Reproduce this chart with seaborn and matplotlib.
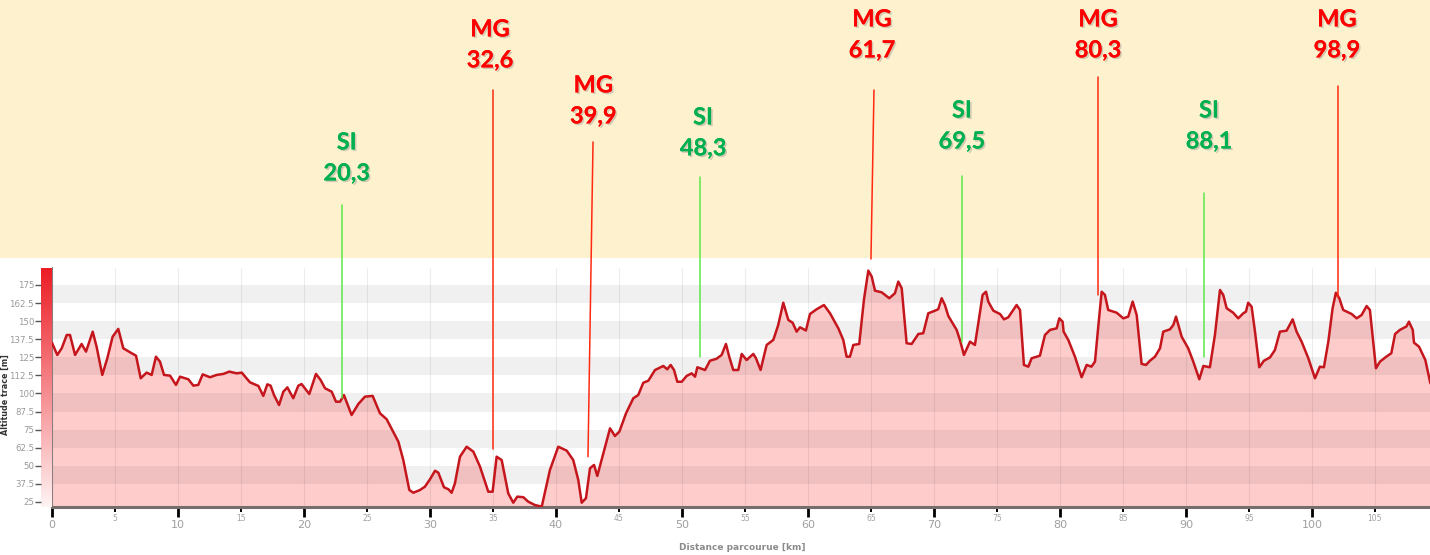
import numpy as np
import matplotlib
matplotlib.use('Agg')
import matplotlib.pyplot as plt
import matplotlib.patheffects as pe
from matplotlib.colors import LinearSegmentedColormap
from matplotlib.patches import Rectangle
import seaborn as sns

sns.set_style("white")
plt.rcParams['font.family'] = ['DejaVu Sans']

# altitude profile (km, m)
km = [0.0, 0.42, 0.77, 1.17, 1.43, 1.83, 2.35, 2.70, 3.23, 3.54, 3.99, 4.39, 4.81, 5.26,
      5.66, 6.32, 6.67, 7.04, 7.51, 7.91, 8.25, 8.57, 8.89, 9.37, 9.84, 10.16, 10.82,
      11.22, 11.61, 11.96, 12.54, 13.07, 13.6, 14.07, 14.66, 15.06, 15.71, 16.38, 16.77,
      17.09, 17.35, 17.62, 18.02, 18.36, 18.68, 19.15, 19.55, 19.81, 20.42, 20.95, 21.32,
      21.67, 22.2, 22.54, 22.86, 23.17, 23.78, 24.31, 24.84, 25.45, 26.03, 26.56, 27.49,
      27.88, 28.36, 28.68, 29.21, 29.6, 30.0, 30.4, 30.66, 31.11, 31.46, 31.72, 31.98,
      32.38, 32.91, 33.44, 33.97, 34.63, 34.97, 35.29, 35.69, 36.21, 36.61, 36.93, 37.41,
      37.8, 38.33, 38.87, 39.52, 40.18, 40.85, 41.37, 41.77, 42.04, 42.38, 42.7, 43.02,
      43.28, 43.62, 44.29, 44.68, 45.03, 45.56, 46.14, 46.53, 46.93, 47.33, 47.86, 48.52,
      48.83, 49.1, 49.37, 49.63, 49.98, 50.37, 50.77, 51.04, 51.22, 51.83, 52.22, 52.75,
      53.15, 53.49, 53.75, 54.07, 54.47, 54.74, 55.13, 55.66, 55.87, 56.24, 56.72, 57.25,
      57.64, 58.04, 58.44, 58.78, 59.1, 59.37, 59.84, 60.16, 60.69, 61.27, 61.75, 62.41,
      62.8, 63.07, 63.33, 63.6, 64.07, 64.44, 64.79, 65.06, 65.32, 65.85, 66.45, 66.9,
      67.17, 67.44, 67.83, 68.23, 68.76, 69.15, 69.55, 70.08, 70.34, 70.61, 70.87, 71.14,
      71.8, 72.06, 72.38, 72.86, 73.25, 73.52, 73.86, 74.13, 74.31, 74.71, 75.24, 75.56,
      75.9, 76.3, 76.56, 76.83, 77.14, 77.49, 77.75, 78.41, 78.81, 79.21, 79.74, 79.95,
      80.21, 80.29, 80.66, 81.19, 81.72, 82.12, 82.5, 82.78, 83.04, 83.31, 83.57, 83.83,
      84.5, 85.03, 85.42, 85.77, 86.09, 86.48, 86.83, 87.14, 87.54, 87.94, 88.2, 88.73,
      89.0, 89.21, 89.42, 89.66, 90.18, 90.58, 91.06, 91.38, 91.9, 92.3, 92.7, 92.96,
      93.23, 93.75, 94.15, 94.55, 94.76, 94.94, 95.21, 95.48, 95.82, 96.19, 96.67, 97.06,
      97.46, 97.99, 98.47, 98.78, 99.18, 99.71, 100.24, 100.63, 100.95, 101.3, 101.64,
      101.9, 102.17, 102.48, 103.15, 103.55, 103.94, 104.34, 104.6, 105.08, 105.4, 105.9,
      106.3, 106.6, 106.98, 107.5, 107.7, 108.0, 108.1, 108.5, 109.0, 109.4]
alt = [135.0, 126.6, 131.2, 140.4, 140.4, 126.6, 134.2, 128.9, 142.7, 132.3, 112.8, 124.3,
       139.2, 144.6, 131.2, 127.8, 126.1, 110.5, 114.4, 112.8, 125.4, 122.0, 112.8, 112.3,
       105.9, 111.6, 109.8, 105.4, 105.9, 113.2, 111.2, 112.8, 113.5, 115.1, 113.9, 114.4,
       107.7, 105.2, 98.3, 106.3, 105.4, 98.9, 92.0, 101.2, 104.2, 96.7, 105.4, 106.5, 99.6,
       113.5, 109.3, 103.6, 101.2, 94.3, 94.3, 98.9, 85.1, 92.7, 97.8, 98.3, 86.3, 82.2,
       66.7, 54.0, 33.3, 31.4, 33.3, 35.6, 40.7, 46.6, 45.3, 35.2, 33.8, 31.4, 37.9, 56.3,
       63.2, 59.8, 49.4, 32.1, 32.1, 56.3, 54.0, 31.0, 24.5, 28.7, 28.3, 25.2, 22.9, 21.8,
       47.1, 63.2, 60.5, 54.0, 40.2, 24.5, 27.6, 48.3, 50.6, 43.0, 54.0, 75.9, 70.6, 73.6,
       86.3, 96.7, 98.9, 107.4, 108.8, 116.2, 119.0, 116.7, 119.7, 116.2, 108.1, 108.1,
       112.1, 113.9, 111.6, 118.1, 116.2, 122.6, 124.0, 126.6, 134.2, 125.4, 116.2, 116.2,
       127.3, 123.1, 127.3, 124.4, 116.2, 133.5, 137.0, 147.3, 162.7, 150.8, 148.9, 142.7,
       145.7, 143.5, 154.9, 158.2, 161.1, 155.4, 145.0, 137.0, 125.4, 125.4, 133.5, 134.2,
       164.6, 184.9, 180.7, 171.0, 169.9, 165.8, 169.2, 177.3, 172.7, 134.7, 134.2, 141.1,
       141.6, 155.4, 157.2, 158.2, 165.8, 161.1, 153.5, 143.9, 137.0, 126.6, 135.8, 133.5,
       148.5, 168.1, 170.3, 163.5, 157.2, 154.9, 151.2, 152.6, 157.7, 161.1, 157.7, 119.7,
       118.5, 124.3, 126.1, 140.4, 143.9, 145.0, 151.9, 149.6, 142.7, 137.0, 125.4, 111.2,
       119.7, 118.5, 122.0, 146.1, 170.3, 168.1, 157.7, 155.8, 151.9, 153.1, 163.5, 154.2,
       120.4, 119.7, 122.6, 125.4, 131.2, 142.7, 144.3, 147.3, 153.1, 146.6, 139.2, 131.2,
       122.0, 109.8, 119.0, 118.1, 140.4, 171.5, 168.1, 158.9, 155.8, 151.9, 155.4, 156.5,
       162.7, 160.0, 142.7, 118.1, 122.6, 124.9, 130.0, 142.7, 143.4, 151.2, 142.7, 135.8,
       124.4, 110.5, 118.5, 118.1, 135.8, 158.9, 169.6, 165.8, 157.7, 154.9, 151.9, 154.2,
       160.4, 157.7, 117.4, 122.0, 125.4, 127.8, 141.1, 143.9, 146.3, 149.6, 143.9, 135.1,
       132.3, 123.1, 107.0]

# markers: MG / SI with their distance labels
ann_kind = ['SI', 'MG', 'MG', 'SI', 'MG', 'SI', 'MG', 'SI', 'MG']
ann_label = ['20,3', '32,6', '39,9', '48,3', '61,7', '69,5', '80,3', '88,1', '98,9']
ann_km_top = [23.02, 35.0, 42.94, 51.43, 65.24, 72.22, 82.98, 91.43, 102.06]
ann_km_bottom = [23.02, 35.0, 42.54, 51.43, 65.0, 72.22, 82.98, 91.43, 102.06]
ann_alt_top = [230.3, 309.7, 273.8, 249.6, 309.7, 250.3, 318.7, 238.5, 312.5]
ann_alt_bottom = [96.9, 61.4, 56.3, 125.4, 192.9, 135.8, 168.1, 125.4, 166.5]
ann_text_km = [23.39, 34.76, 42.96, 51.67, 65.08, 72.22, 83.02, 91.83, 101.98]
ann_text_alt = [273.8, 351.9, 313.2, 291.1, 358.8, 295.9, 358.8, 295.9, 358.8]

y_ticks = [25, 37.5, 50, 62.5, 75, 87.5, 100, 112.5, 125, 137.5, 150, 162.5, 175]
band_lows = [37.5, 62.5, 87.5, 112.5, 137.5, 162.5]

W, H = 1430, 555
XMAX, YMIN, YMAX, YBAR = 109.37, 21.54, 193.6, 186.5

fig = plt.figure(figsize=(W / 100, H / 100), dpi=100)
fig.patches.append(Rectangle((0, (H - 258) / H), 1, 258 / H, transform=fig.transFigure,
                             facecolor='#fef1ce', edgecolor='none', zorder=-1))

ax = fig.add_axes([52 / W, (H - 507) / H, 1378 / W, 249 / H])
ax.set_facecolor('white')
ax.fill_between(km, alt, YMIN, color='#ffcccc', lw=0, zorder=1)
for lo in band_lows:
    ax.axhspan(lo, lo + 12.5, color='black', alpha=0.06, lw=0, zorder=2)
for x in range(5, 110, 5):
    ax.plot([x, x], [YMIN, YBAR], color='black', alpha=0.07, lw=0.8, zorder=2)
sns.lineplot(x=km, y=alt, ax=ax, color='#c4161c', lw=1.8, zorder=4)

ax.set_xlim(0, XMAX)
ax.set_ylim(YMIN, YMAX)
ax.set_xticks(range(0, 110, 10))
ax.set_xticklabels([str(v) for v in range(0, 110, 10)])
ax.set_xticks(range(5, 110, 10), minor=True)
ax.set_xticklabels([str(v) for v in range(5, 110, 10)], minor=True)
ax.tick_params(axis='x', which='major', bottom=True, direction='out', length=7, width=2,
               color='black', labelsize=8, labelcolor='#a0a0a0', pad=2)
ax.tick_params(axis='x', which='minor', bottom=True, direction='out', length=3.5, width=1.4,
               color='black', labelsize=5.5, labelcolor='#a0a0a0', pad=1.5)
ax.tick_params(axis='y', left=False, labelleft=False)
for s in ['top', 'right']:
    ax.spines[s].set_visible(False)
ax.spines['left'].set_color('#8a7f7f')
ax.spines['left'].set_linewidth(1.5)
ax.spines['left'].set_bounds(YMIN, YBAR)
ax.spines['bottom'].set_color('#766d6d')
ax.spines['bottom'].set_linewidth(2.2)

# marker lines and labels
shadow = [pe.withSimplePatchShadow(offset=(1.2, -1.2), shadow_rgbFace='#808080', alpha=0.35),
          pe.Normal()]
for i in range(len(ann_kind)):
    mg = ann_kind[i] == 'MG'
    line_c = '#ff2a10' if mg else '#5be84a'
    text_c = '#ff0000' if mg else '#00b050'
    ax.plot([ann_km_top[i], ann_km_bottom[i]], [ann_alt_top[i], ann_alt_bottom[i]],
            color=line_c, lw=1.1, clip_on=False, zorder=5)
    ax.annotate(ann_kind[i], xy=(ann_text_km[i], ann_text_alt[i]), ha='center', va='center',
                fontsize=17, fontweight='bold', family='Lato', color=text_c,
                annotation_clip=False, path_effects=shadow)
    ax.annotate(ann_label[i], xy=(ann_text_km[i], ann_text_alt[i]), xytext=(0, -22.3),
                textcoords='offset points', ha='center', va='center',
                fontsize=17, fontweight='bold', family='Lato', color=text_c,
                annotation_clip=False, path_effects=shadow)

# red gradient bar with the altitude ticks
axb = fig.add_axes([41 / W, (H - 507) / H, 11 / W, 249 / H])
cmap = LinearSegmentedColormap.from_list('bar', ['#fff3f3', '#ec1c24'])
axb.imshow(np.linspace(0, 1, 256).reshape(-1, 1), extent=[0, 1, YMIN, YBAR],
           aspect='auto', cmap=cmap, origin='lower')
axb.set_xlim(0, 1)
axb.set_ylim(YMIN, YMAX)
axb.set_xticks([])
axb.set_yticks(y_ticks)
axb.set_yticklabels([f'{v:g}' for v in y_ticks])
axb.tick_params(axis='y', left=True, direction='out', length=4, width=1, color='#555555',
                labelsize=6.2, labelcolor='#999999', pad=1)
for s in axb.spines.values():
    s.set_visible(False)

fig.text(5.5 / W, 1 - 395 / H, 'Altitude trace [m]', rotation=90, fontsize=5.8,
         fontweight='bold', color='#333333', ha='center', va='center')
fig.text(742 / W, 1 - 548 / H, 'Distance parcourue [km]', fontsize=6.5,
         fontweight='bold', color='#8c8c8c', ha='center', va='center')

fig.savefig('out.png', dpi=100)
